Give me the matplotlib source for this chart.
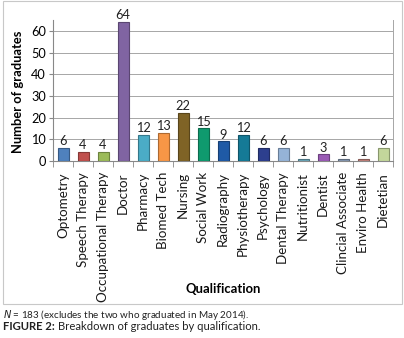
import numpy as np
import matplotlib
matplotlib.use("Agg")
from matplotlib import pyplot as plt
from matplotlib.patches import Rectangle
from matplotlib.colors import to_rgb

plt.rcParams['font.family'] = ['Lato', 'DejaVu Sans']

qualifications = ["Optometry", "Speech Therapy", "Occupational Therapy", "Doctor",
                  "Pharmacy", "Biomed Tech", "Nursing", "Social Work", "Radiography",
                  "Physiotherapy", "Psychology", "Dental Therapy", "Nutritionist",
                  "Dentist", "Clincial Associate", "Enviro Health", "Dietetian"]
graduates = [6, 4, 4, 64, 12, 13, 22, 15, 9, 12, 6, 6, 1, 3, 1, 1, 6]
bar_colors = ["#4f81bd", "#c0504d", "#9bbb59", "#8064a2", "#4bacc6", "#f79646",
              "#7f6326", "#0f9a6e", "#1f5aa6", "#157a96", "#2d3f8e", "#95b3d7",
              "#6aa5b8", "#9a5bb5", "#8496b0", "#c0807a", "#c3d69b"]
y_ticks = [0, 10, 20, 30, 40, 50, 60]

fig = plt.figure(figsize=(4.04, 3.38), dpi=100)

# outer chart frame
fig.patches.append(Rectangle((3 / 404, 1 - 304 / 338), 399 / 404, 303 / 338,
                             transform=fig.transFigure, fill=False,
                             edgecolor="#c8c8c8", linewidth=0.8))

ax = fig.add_axes([53 / 404, 1 - 161 / 338, 340 / 404, 141 / 338])

x = np.arange(len(qualifications))
edges = [tuple(c * 0.7 for c in to_rgb(col)) for col in bar_colors]
bars = ax.bar(x, graduates, width=0.55, color=bar_colors, edgecolor=edges,
              linewidth=0.8, zorder=3)

for xi, v in zip(x, graduates):
    ax.text(xi, v + 0.4, str(v), ha="center", va="bottom", fontsize=9.2,
            color="#222222")

ax.set_xlim(-0.5, len(qualifications) - 0.5)
ax.set_ylim(0, 65)
ax.set_yticks(y_ticks)
ax.yaxis.grid(True, color="#a6a6a6", linewidth=0.7, zorder=0)
ax.tick_params(axis="y", labelsize=9.2, length=3, color="#888888", pad=2)

ax.set_xticks(x)
ax.set_xticklabels(qualifications, rotation=90, fontsize=9.6, color="#1a1a1a")
ax.set_xticks(np.arange(-0.5, len(qualifications)), minor=True)
ax.tick_params(axis="x", which="major", length=0, pad=8)
ax.tick_params(axis="x", which="minor", length=4, color="#888888")

for s in ["left", "bottom"]:
    ax.spines[s].set_color("#888888")
    ax.spines[s].set_linewidth(0.8)
ax.spines["right"].set_color("#a6a6a6")
ax.spines["right"].set_linewidth(0.7)
ax.spines["top"].set_visible(False)

fig.text(18 / 404, 1 - 92 / 338, "Number of graduates", rotation=90,
         ha="center", va="center", fontsize=9.3, fontweight="bold")
fig.text(223 / 404, 1 - 289 / 338, "Qualification", ha="center", va="center",
         fontsize=9.4, fontweight="bold")

# caption
fig.text(3 / 404, 1 - 315 / 338, r"$N$ = 183 (excludes the two who graduated in May 2014).",
         ha="left", va="center", fontsize=7.1, color="#222222")
t = fig.text(3 / 404, 1 - 327 / 338, "FIGURE 2:", ha="left", va="center",
             fontsize=8.1, fontweight="bold", color="#222222")
fig.canvas.draw()
bb = t.get_window_extent()
fig.text((bb.x1 + 3) / 404, 1 - 327 / 338, "Breakdown of graduates by qualification.",
         ha="left", va="center", fontsize=8.1, color="#222222")

fig.savefig("out.png", dpi=100)
